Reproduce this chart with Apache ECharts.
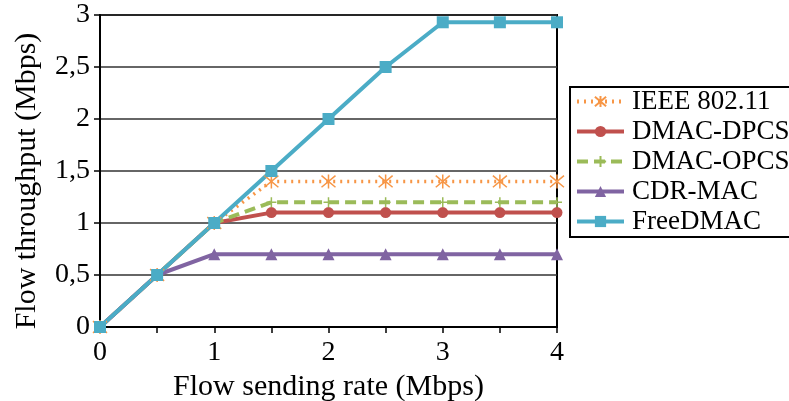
<!DOCTYPE html>
<html>
<head>
<meta charset="utf-8">
<script src="https://cdn.jsdelivr.net/npm/echarts@6/dist/echarts.min.js"></script>
<style>
  html, body { margin: 0; padding: 0; background: #fff; overflow: hidden; }
  #chart { width: 789px; height: 401px; }
</style>
</head>
<body>
<div id="chart"></div>
<script>
const rates = [0, 0.5, 1, 1.5, 2, 2.5, 3, 3.5, 4];
const ieee = [0, 0.5, 1, 1.4, 1.4, 1.4, 1.4, 1.4, 1.4];
const dpcs = [0, 0.5, 1, 1.1, 1.1, 1.1, 1.1, 1.1, 1.1];
const opcs = [0, 0.5, 1, 1.2, 1.2, 1.2, 1.2, 1.2, 1.2];
const cdr = [0, 0.5, 0.7, 0.7, 0.7, 0.7, 0.7, 0.7, 0.7];
const freeDmac = [0, 0.5, 1, 1.5, 2, 2.5, 2.93, 2.93, 2.93];

const pairs = (ys) => rates.map((x, i) => [x, ys[i]]);
const serif = "'Liberation Serif', 'DejaVu Serif', serif";

const chart = echarts.init(document.getElementById("chart"));

chart.setOption({
  animation: false,
  textStyle: { fontFamily: serif, color: "#000" },
  grid: {
    left: 100, right: 232, top: 15, bottom: 74,
    outerBoundsMode: "none",
    show: true, borderColor: "#000", borderWidth: 2,
  },
  legend: {
    orient: "vertical",
    left: 570, top: 87,
    padding: [1, 40, 2, 5],
    borderColor: "#000", borderWidth: 2,
    itemWidth: 47, itemHeight: 14, itemGap: 3,
    lineStyle: { width: 4 },
    textStyle: { fontFamily: serif, fontSize: 27, lineHeight: 27, color: "#000", padding: [0, 0, 0, 3] },
    data: ["IEEE 802.11", "DMAC-DPCS", "DMAC-OPCS", "CDR-MAC", "FreeDMAC"],
  },
  xAxis: {
    type: "value",
    min: 0, max: 4, interval: 0.5,
    name: "Flow sending rate (Mbps)",
    nameLocation: "middle",
    nameGap: 42,
    nameTextStyle: { fontFamily: serif, fontSize: 30, color: "#000" },
    axisLine: { lineStyle: { color: "#000", width: 2 } },
    axisTick: { show: true, length: 6, lineStyle: { color: "#000", width: 1.5 } },
    axisLabel: {
      fontFamily: serif, fontSize: 28, color: "#000", margin: 12,
      formatter: (v) => (Number.isInteger(v) ? String(v) : ""),
    },
    splitLine: { show: false },
  },
  yAxis: {
    type: "value",
    min: 0, max: 3, interval: 0.5,
    name: "Flow throughput (Mbps)",
    nameLocation: "middle",
    nameGap: 58,
    nameTextStyle: { fontFamily: serif, fontSize: 30, color: "#000", padding: [0, 20, 0, 0] },
    axisLine: { show: true, lineStyle: { color: "#000", width: 2 } },
    axisTick: { show: true, length: 6, lineStyle: { color: "#000", width: 1.5 } },
    axisLabel: {
      fontFamily: serif, fontSize: 28, color: "#000", margin: 10,
      formatter: (v) => String(v).replace(".", ","),
    },
    splitLine: { show: true, lineStyle: { color: "#333", width: 1.5 } },
  },
  series: [
    {
      name: "IEEE 802.11",
      type: "line",
      data: pairs(ieee),
      symbol: "path://M0,0L10,10M10,0L0,10M5,-1L5,11",
      symbolSize: 14,
      itemStyle: { color: "#F79646", borderColor: "#F79646", borderWidth: 1.5 },
      lineStyle: { color: "#F79646", width: 3.5, type: [2, 5] },
    },
    {
      name: "DMAC-DPCS",
      type: "line",
      data: pairs(dpcs),
      symbol: "circle",
      symbolSize: 11,
      itemStyle: { color: "#C0504D" },
      lineStyle: { color: "#C0504D", width: 4 },
    },
    {
      name: "DMAC-OPCS",
      type: "line",
      data: pairs(opcs),
      symbol: "path://M5,0L5,10M0,5L10,5",
      symbolSize: 10,
      itemStyle: { color: "#9BBB59", borderColor: "#9BBB59", borderWidth: 1.5 },
      lineStyle: { color: "#9BBB59", width: 4, type: [11, 6] },
    },
    {
      name: "CDR-MAC",
      type: "line",
      data: pairs(cdr),
      symbol: "triangle",
      symbolSize: 12,
      itemStyle: { color: "#8064A2" },
      lineStyle: { color: "#8064A2", width: 4 },
    },
    {
      name: "FreeDMAC",
      type: "line",
      data: pairs(freeDmac),
      symbol: "rect",
      symbolSize: 12,
      itemStyle: { color: "#4BACC6" },
      lineStyle: { color: "#4BACC6", width: 4 },
    },
  ],
});
</script>
</body>
</html>
